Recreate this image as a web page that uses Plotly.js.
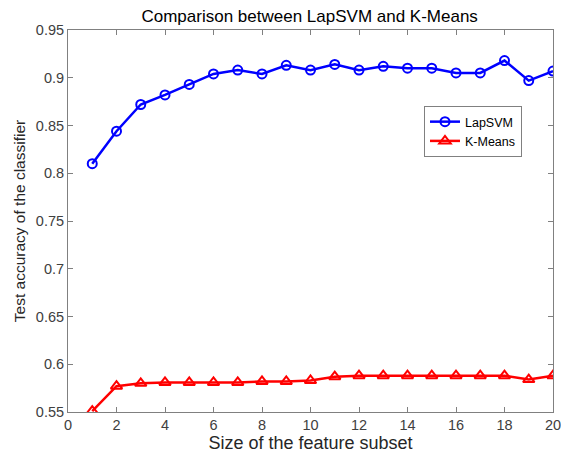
<!DOCTYPE html>
<html><head><meta charset="utf-8">
<script src="https://cdn.plot.ly/plotly-3.0.1.min.js"></script>
<style>html,body{margin:0;padding:0;background:#fff}#chart{width:561px;height:456px}</style>
</head><body><div id="chart"></div>
<script>
var featureSize = [1,2,3,4,5,6,7,8,9,10,11,12,13,14,15,16,17,18,19,20];
var lapSVM = [0.810,0.844,0.872,0.882,0.893,0.904,0.908,0.904,0.913,0.908,0.914,0.908,0.912,0.910,0.910,0.905,0.905,0.918,0.897,0.907];
var kMeans = [0.551,0.577,0.580,0.581,0.581,0.581,0.581,0.582,0.582,0.583,0.587,0.588,0.588,0.588,0.588,0.588,0.588,0.588,0.584,0.588];
var xTicks = [0,2,4,6,8,10,12,14,16,18,20];
var yTicks = [0.55,0.6,0.65,0.7,0.75,0.8,0.85,0.9,0.95];

var FONT = 'Liberation Sans, Arial, sans-serif';
var traces = [
  {x: featureSize, y: lapSVM, name: 'LapSVM', mode: 'lines+markers',
   line: {color: '#0000ff', width: 2.5},
   marker: {symbol: 'circle-open', size: 9, color: '#0000ff', line: {width: 2, color: '#0000ff'}}},
  {x: featureSize, y: kMeans, name: 'K-Means', mode: 'lines+markers',
   line: {color: '#ff0000', width: 2.5},
   marker: {symbol: 'triangle-up-open', size: 10, color: '#ff0000', line: {width: 2, color: '#ff0000'}}}
];
var axisCommon = {
  showgrid: false, zeroline: false, showline: true, linecolor: '#808080', linewidth: 1,
  mirror: 'ticks', ticks: 'inside', ticklen: 5, tickcolor: '#808080',
  ticklabeloverflow: 'allow',
  tickfont: {family: FONT, size: 14.5, color: '#404040'}
};
var layout = {
  width: 561, height: 456,
  margin: {l: 68, r: 8, t: 30, b: 44},
  paper_bgcolor: '#fff', plot_bgcolor: '#fff',
  title: {text: 'Comparison between LapSVM and K-Means', x: 0.552, xanchor: 'center', y: 0.965, yanchor: 'middle',
    font: {family: FONT, size: 17, color: '#000'}},
  xaxis: Object.assign({}, axisCommon, {range: [0, 20], tickvals: xTicks, ticktext: xTicks.map(String),
    title: {text: 'Size of the feature subset', standoff: 3,
      font: {family: FONT, size: 18, color: '#262626'}}}),
  yaxis: Object.assign({}, axisCommon, {range: [0.55, 0.95], tickvals: yTicks, ticktext: yTicks.map(String),
    title: {text: 'Test accuracy of the classifier', standoff: 6,
      font: {family: FONT, size: 15.5, color: '#262626'}}}),
  showlegend: true,
  legend: {x: 0.734, y: 0.801, xanchor: 'left', yanchor: 'top', bgcolor: '#fff',
    bordercolor: '#808080', borderwidth: 1,
    font: {family: FONT, size: 12.5, color: '#000'},
    tracegroupgap: 0}
};
Plotly.newPlot('chart', traces, layout, {displayModeBar: false, staticPlot: true});
</script></body></html>
